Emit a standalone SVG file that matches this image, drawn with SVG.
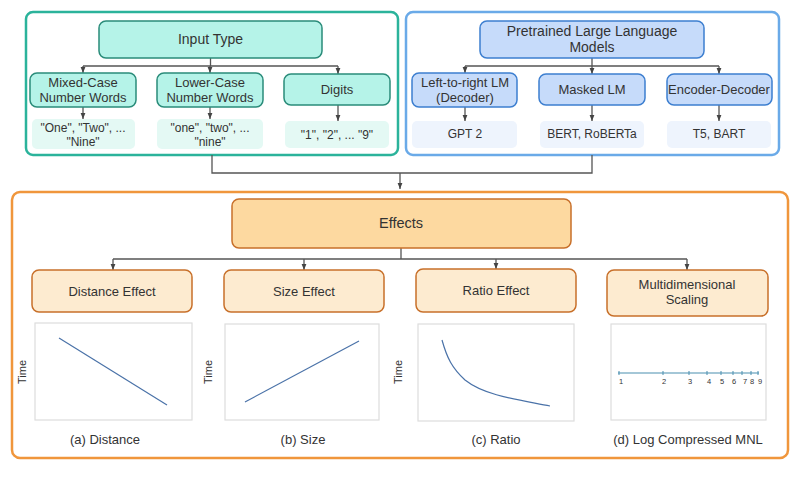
<svg xmlns="http://www.w3.org/2000/svg" width="800" height="478" viewBox="0 0 800 478">
<style>
text{font-family:"Liberation Sans",Arial,sans-serif;fill:#333;text-anchor:middle;dominant-baseline:central}
.t13{font-size:13px}
.t12{font-size:12px}
.tealH{fill:#b5f3e8;stroke:#2a8c7a;stroke-width:1.5}
.tealL{fill:#e4f9f4;stroke:none}
.blueH{fill:#c6dbfa;stroke:#3d7fd0;stroke-width:1.5}
.blueL{fill:#eef4fd;stroke:none}
.orH{fill:#fdd9a0;stroke:#c8702a;stroke-width:1.5}
.orS{fill:#fdebd0;stroke:#c8702a;stroke-width:1.5}
.plot{fill:#fff;stroke:#ddd;stroke-width:1.2}
.conn{fill:none;stroke:#555;stroke-width:1.3}
.curve{fill:none;stroke:#4a72a8;stroke-width:1.2}
</style>
<defs>
<marker id="ah" viewBox="0 0 10 10" refX="10" refY="5" markerWidth="6" markerHeight="6" orient="auto" markerUnits="userSpaceOnUse">
<path d="M0,1 L10,5 L0,9 z" fill="#444"/>
</marker>
</defs>
<rect width="800" height="478" fill="#fff"/>

<!-- containers -->
<g id="input-container"><rect x="26" y="12" width="372" height="143" rx="7" fill="#fff" stroke="#2bb39b" stroke-width="2.5"/></g>
<g id="llm-container"><rect x="406" y="12" width="373" height="143" rx="7" fill="#fff" stroke="#6aaae8" stroke-width="2.5"/></g>
<g id="effects-container"><rect x="12" y="192" width="776" height="266" rx="8" fill="#fff" stroke="#f0963c" stroke-width="2.5"/></g>

<!-- connectors -->
<g id="connectors">
<path class="conn" d="M210.5,58 V66 M83,66 H338" />
<path class="conn" d="M83,66 V73" marker-end="url(#ah)"/>
<path class="conn" d="M210,66 V73" marker-end="url(#ah)"/>
<path class="conn" d="M338,66 V74" marker-end="url(#ah)"/>
<path class="conn" d="M83,107 V119" marker-end="url(#ah)"/>
<path class="conn" d="M210,107 V119" marker-end="url(#ah)"/>
<path class="conn" d="M338,105 V121" marker-end="url(#ah)"/>
<path class="conn" d="M592,58 V66 M465,66 H719"/>
<path class="conn" d="M465,66 V73" marker-end="url(#ah)"/>
<path class="conn" d="M592,66 V74" marker-end="url(#ah)"/>
<path class="conn" d="M719,66 V74" marker-end="url(#ah)"/>
<path class="conn" d="M465,107 V121" marker-end="url(#ah)"/>
<path class="conn" d="M592,105 V121" marker-end="url(#ah)"/>
<path class="conn" d="M719,105 V121" marker-end="url(#ah)"/>
<path class="conn" d="M212,155 V173 H592 V155"/>
<path class="conn" d="M400,173 V189" marker-end="url(#ah)"/>
<path class="conn" d="M401,248 V259 M113,259 H687"/>
<path class="conn" d="M113,259 V270" marker-end="url(#ah)"/>
<path class="conn" d="M304,259 V270" marker-end="url(#ah)"/>
<path class="conn" d="M496,259 V269" marker-end="url(#ah)"/>
<path class="conn" d="M687,259 V270" marker-end="url(#ah)"/>
</g>

<!-- input type nodes -->
<g id="input-type"><rect class="tealH" x="99" y="21" width="223" height="37" rx="7"/><text x="210.5" y="39" style="font-size:14px">Input Type</text></g>
<g id="mixed-case"><rect class="tealH" x="30" y="73" width="106" height="34" rx="7"/><text class="t13" x="83" y="82">Mixed-Case</text><text class="t13" x="83" y="97">Number Words</text></g>
<g id="lower-case"><rect class="tealH" x="157" y="73" width="106" height="34" rx="7"/><text class="t13" x="210" y="82">Lower-Case</text><text class="t13" x="210" y="97">Number Words</text></g>
<g id="digits"><rect class="tealH" x="284" y="74" width="106" height="31" rx="7"/><text class="t13" x="337" y="89">Digits</text></g>
<g id="mixed-ex"><rect class="tealL" x="32" y="119" width="103" height="30" rx="5"/><text class="t12" x="83" y="128">"One", "Two", ...</text><text class="t12" x="83" y="142">"Nine"</text></g>
<g id="lower-ex"><rect class="tealL" x="157" y="119" width="106" height="30" rx="5"/><text class="t12" x="210" y="128">"one", "two", ...</text><text class="t12" x="210" y="142">"nine"</text></g>
<g id="digits-ex"><rect class="tealL" x="285" y="121" width="104" height="27" rx="5"/><text class="t12" x="337" y="135">"1", "2", ... "9"</text></g>

<!-- LLM nodes -->
<g id="pllm"><rect class="blueH" x="480" y="21" width="224" height="37" rx="7"/><text x="592" y="31" style="font-size:14px">Pretrained Large Language</text><text x="592" y="47" style="font-size:14px">Models</text></g>
<g id="ltr"><rect class="blueH" x="412" y="73" width="105" height="34" rx="7"/><text class="t13" x="465" y="82">Left-to-right LM</text><text class="t13" x="465" y="97">(Decoder)</text></g>
<g id="masked"><rect class="blueH" x="539" y="74" width="106" height="31" rx="7"/><text class="t13" x="592" y="89">Masked LM</text></g>
<g id="encdec"><rect class="blueH" x="667" y="74" width="105" height="31" rx="7"/><text class="t13" x="719" y="89">Encoder-Decoder</text></g>
<g id="gpt"><rect class="blueL" x="412" y="121" width="105" height="27" rx="5"/><text class="t12" x="465" y="134">GPT 2</text></g>
<g id="bert"><rect class="blueL" x="540" y="121" width="104" height="27" rx="5"/><text class="t12" x="592" y="134">BERT, RoBERTa</text></g>
<g id="t5"><rect class="blueL" x="667" y="121" width="104" height="27" rx="5"/><text class="t12" x="719" y="134">T5, BART</text></g>

<!-- Effects nodes -->
<g id="effects"><rect class="orH" x="232" y="199" width="339" height="49" rx="7"/><text x="401" y="223" style="font-size:14.5px">Effects</text></g>
<g id="distance"><rect class="orS" x="32" y="270" width="160" height="42" rx="7"/><text class="t13" x="112" y="291">Distance Effect</text></g>
<g id="size"><rect class="orS" x="224" y="270" width="160" height="42" rx="7"/><text class="t13" x="304" y="291">Size Effect</text></g>
<g id="ratio"><rect class="orS" x="416" y="269" width="160" height="43" rx="7"/><text class="t13" x="496" y="290">Ratio Effect</text></g>
<g id="mds"><rect class="orS" x="607" y="270" width="161" height="46" rx="7"/><text class="t13" x="687" y="284">Multidimensional</text><text class="t13" x="687" y="299">Scaling</text></g>

<!-- plots -->
<g id="plot-a">
<rect class="plot" x="35" y="323" width="157" height="97"/>
<line class="curve" x1="59" y1="338" x2="167" y2="405"/>
<text x="22" y="372" transform="rotate(-90 22 372)" style="font-size:11px">Time</text>
<text class="t13" x="105" y="439">(a) Distance</text>
</g>
<g id="plot-b">
<rect class="plot" x="225" y="324" width="154" height="96"/>
<line class="curve" x1="245" y1="402" x2="359" y2="341"/>
<text x="208" y="372" transform="rotate(-90 208 372)" style="font-size:11px">Time</text>
<text class="t13" x="303" y="439">(b) Size</text>
</g>
<g id="plot-c">
<rect class="plot" x="418" y="324" width="156" height="97"/>
<path class="curve" d="M442,340 C447,358 452,368 465,380 C485,396 520,400 550,406"/>
<text x="398" y="372" transform="rotate(-90 398 372)" style="font-size:11px">Time</text>
<text class="t13" x="496" y="439">(c) Ratio</text>
</g>
<g id="plot-d">
<rect class="plot" x="611" y="324" width="155" height="96"/>
<line x1="618" y1="373" x2="759" y2="373" stroke="#4a8fb0" stroke-width="1.2"/>
<g stroke="#4a8fb0" stroke-width="1">
<line x1="619" y1="371" x2="619" y2="375"/><line x1="663" y1="371" x2="663" y2="375"/><line x1="689" y1="371" x2="689" y2="375"/><line x1="707" y1="371" x2="707" y2="375"/><line x1="721" y1="371" x2="721" y2="375"/><line x1="733" y1="371" x2="733" y2="375"/><line x1="742" y1="371" x2="742" y2="375"/><line x1="751" y1="371" x2="751" y2="375"/><line x1="758" y1="371" x2="758" y2="375"/>
</g>
<g style="font-size:7.5px">
<text x="621" y="381">1</text><text x="664" y="381">2</text><text x="690" y="381">3</text><text x="709" y="381">4</text><text x="722" y="381">5</text><text x="734" y="381">6</text><text x="745" y="381">7</text><text x="752" y="381">8</text><text x="760" y="381">9</text>
</g>
<text class="t13" x="688" y="439">(d) Log Compressed MNL</text>
</g>
</svg>
